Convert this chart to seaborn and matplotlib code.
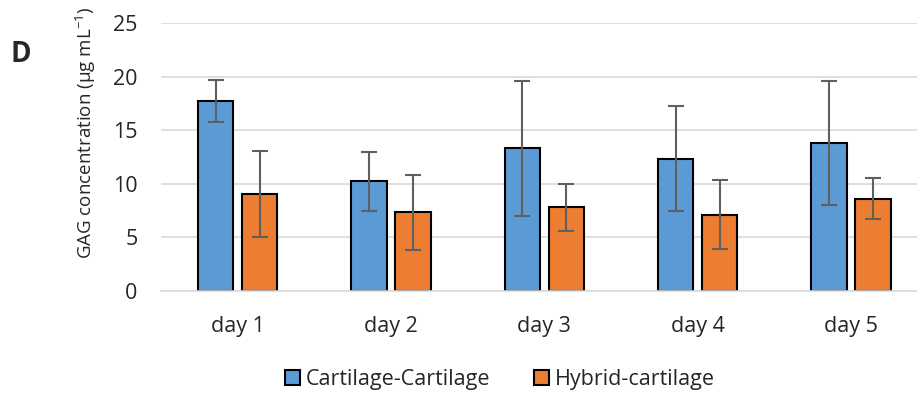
import pandas as pd
import numpy as np
import matplotlib.pyplot as plt
import seaborn as sns

# Data
days = ["day 1", "day 2", "day 3", "day 4", "day 5"]
groups = ["Cartilage-Cartilage", "Hybrid-cartilage"]
cart_cart = [17.7, 10.2, 13.3, 12.3, 13.8]
cart_cart_err = [1.95, 2.75, 6.3, 4.9, 5.8]
hybrid = [9.0, 7.3, 7.8, 7.1, 8.6]
hybrid_err = [4.0, 3.5, 2.2, 3.25, 1.9]

df = pd.DataFrame({
    "day": days * 2,
    "group": [groups[0]] * 5 + [groups[1]] * 5,
    "value": cart_cart + hybrid,
})
errs = [cart_cart_err, hybrid_err]

sns.set_style("white")
plt.rcParams["font.family"] = ["Open Sans", "DejaVu Sans"]
plt.rcParams["mathtext.fontset"] = "custom"
plt.rcParams["mathtext.rm"] = "Open Sans"

fig = plt.figure(figsize=(9.17, 3.96), dpi=100)
ax = fig.add_axes([161 / 917, 0.266, (917 - 161) / 917, 0.676])

sns.barplot(
    data=df, x="day", y="value", hue="group",
    palette=["#5B9BD5", "#ED7D31"], saturation=1, width=0.574, gap=0.2,
    errorbar=None, edgecolor="black", linewidth=1.5, ax=ax, legend=True,
)

# error bars on top of seaborn's bars
for cont, err in zip(ax.containers, errs):
    xs = [p.get_x() + p.get_width() / 2 for p in cont.patches]
    ys = [p.get_height() for p in cont.patches]
    ax.errorbar(xs, ys, yerr=err, fmt="none", ecolor="#5f5f5f",
                elinewidth=1.5, capsize=6, capthick=1.5, zorder=5)

ax.set_ylim(0, 25)
ax.set_yticks(np.arange(0, 26, 5))
ax.set_xlim(-0.5, 4.43)
ax.yaxis.grid(True, color="#d9d9d9", linewidth=1.2)
ax.set_axisbelow(True)
for s in ["top", "right", "left"]:
    ax.spines[s].set_visible(False)
ax.spines["bottom"].set_color("#d9d9d9")
ax.spines["bottom"].set_linewidth(1.2)
ax.tick_params(axis="y", length=0, pad=17, labelsize=15.5)
ax.tick_params(axis="x", length=0, pad=18, labelsize=15.5)
ax.set_xlabel("")
ax.set_ylabel("GAG concentration (μg mL$^{\\mathrm{-1}}$)", fontsize=13.5)
ax.yaxis.set_label_coords(-0.083, 0.59)

handles, labels = ax.get_legend_handles_labels()
ax.get_legend().remove()
fig.legend(handles, labels, loc="lower center", bbox_to_anchor=(500 / 917, -0.035),
           ncol=2, frameon=False, fontsize=15.5, handlelength=0.7,
           handleheight=0.7, handletextpad=0.3, columnspacing=2.0)

fig.text(21 / 917, 1 - 54 / 396, "D", fontsize=20, fontweight="bold",
         ha="center", va="center")

fig.savefig("out.png", dpi=100)
